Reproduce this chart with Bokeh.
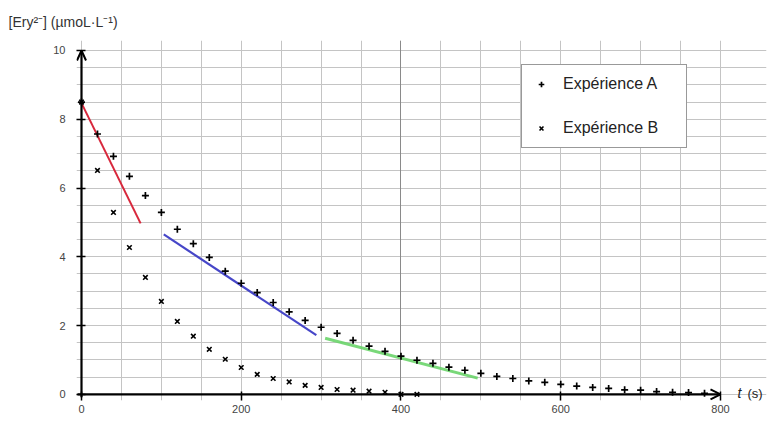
from bokeh.plotting import figure
from bokeh.models import (Range1d, FixedTicker, Label, Legend, LegendItem, Grid)
from bokeh.embed import file_html
from bokeh.resources import INLINE

# ---- data ----
t_A = [0, 20, 40, 60, 80, 100, 120, 140, 160, 180, 200, 220, 240, 260, 280,
       300, 320, 340, 360, 380, 400, 420, 440, 460, 480, 500, 520, 540, 560,
       580, 600, 620, 640, 660, 680, 700, 720, 740, 760, 780]
c_A = [8.5, 7.57, 6.92, 6.34, 5.78, 5.29, 4.80, 4.38, 3.98, 3.58, 3.23, 2.96,
       2.67, 2.40, 2.15, 1.95, 1.77, 1.57, 1.40, 1.25, 1.11, 0.99, 0.90, 0.79,
       0.70, 0.61, 0.52, 0.46, 0.39, 0.35, 0.29, 0.24, 0.20, 0.17, 0.13, 0.12,
       0.08, 0.06, 0.05, 0.03]
t_B = [0, 20, 40, 60, 80, 100, 120, 140, 160, 180, 200, 220, 240, 260, 280,
       300, 320, 340, 360, 380, 400, 420]
c_B = [8.5, 6.51, 5.29, 4.27, 3.40, 2.70, 2.12, 1.69, 1.31, 1.02, 0.78, 0.58,
       0.46, 0.36, 0.26, 0.20, 0.14, 0.12, 0.09, 0.06, 0.0, 0.0]

red_t, red_c = [0, 74], [8.47, 4.97]
blue_t, blue_c = [103, 294], [4.65, 1.72]
green_t, green_c = [305, 496], [1.63, 0.47]

x_ticks = [0, 200, 400, 600, 800]
y_ticks = [0, 2, 4, 6, 8, 10]
x_grid = list(range(0, 801, 50))
y_grid = [i * 0.5 for i in range(0, 21)]
x_grid_major = [400]

series_names = ["Expérience A", "Expérience B"]
y_title = "[Ery²⁻] (µmoL·L⁻¹)"

FONT = "Liberation Sans"

# pixel scale (px per data unit) used for the frame and axis decorations
PX_X = 0.79875
PX_Y = 34.4
X_END = x_ticks[-1]
Y_END = y_ticks[-1]

p = figure(width=768, height=425, output_backend="svg", toolbar_location=None,
           x_range=Range1d(-5 / PX_X, 857.6), y_range=Range1d(-0.18, 10.29),
           min_border_left=76, min_border_right=2, min_border_top=40,
           min_border_bottom=25)
p.outline_line_color = None
p.background_fill_color = "white"

# title (y quantity)
p.title.text = y_title
p.title.align = "left"
p.title.offset = -68
p.title.text_font = FONT
p.title.text_font_size = "14px"
p.title.text_font_style = "normal"
p.title.text_color = "#333333"
p.title.standoff = 22

# grid
p.xgrid.ticker = FixedTicker(ticks=x_grid)
p.ygrid.ticker = FixedTicker(ticks=y_grid)
p.xgrid.bounds = (0, Y_END)
p.ygrid.bounds = (0, X_END)
for g in (p.xgrid, p.ygrid):
    g.grid_line_color = "#c4c4c4"
    g.grid_line_width = 1
p.add_layout(Grid(dimension=0, ticker=FixedTicker(ticks=x_grid_major),
                  bounds=(0, Y_END), grid_line_color="#8a8a8a", grid_line_width=1))

# axes (labels + crossing ticks; axis lines drawn below)
for ax in (p.xaxis, p.yaxis):
    ax.axis_line_color = None
    ax.major_tick_line_color = "black"
    ax.major_tick_line_width = 1.5
    ax.major_tick_in = 9
    ax.major_tick_out = 0
    ax.minor_tick_line_color = None
    ax.major_label_text_font = FONT
    ax.major_label_text_font_size = "11px"
    ax.major_label_text_color = "#444444"
p.xaxis.ticker = FixedTicker(ticks=x_ticks)
p.yaxis.ticker = FixedTicker(ticks=y_ticks)
p.xaxis.major_label_standoff = 4
p.yaxis.major_label_standoff = 11

# tangents
p.line(red_t, red_c, line_color="#d8283c", line_width=2)
p.line(blue_t, blue_c, line_color="#4646c8", line_width=2.2)
p.line(green_t, green_c, line_color="#6ad46a", line_width=3, line_alpha=0.9)

# points
rA = p.scatter(t_A, c_A, marker="cross", size=7, line_color="black", line_width=1.7)
rB = p.scatter(t_B, c_B, marker="x", size=6.5, line_color="black", line_width=1.6)

# axis lines with open arrow heads
hx, hy = 10 / PX_X, 5 / PX_Y
vx, vy = 4.5 / PX_X, 10 / PX_Y
p.line([-4 / PX_X, X_END], [0, 0], line_color="black", line_width=2.2)
p.line([X_END - hx, X_END, X_END - hx], [hy, 0, -hy], line_color="black", line_width=2)
p.line([0, 0], [-3 / PX_Y, Y_END], line_color="black", line_width=2.2)
p.line([-vx, 0, vx], [Y_END - vy, Y_END, Y_END - vy], line_color="black", line_width=2)

# legend
legend = Legend(items=[LegendItem(label=series_names[0], renderers=[rA]),
                       LegendItem(label=series_names[1], renderers=[rB])],
                location=(445, 252), orientation="vertical",
                border_line_color="#333333", border_line_width=1.5,
                background_fill_color="white", background_fill_alpha=1,
                label_text_font=FONT, label_text_font_size="16px",
                label_text_color="#222222",
                padding=10, spacing=26, glyph_height=14, glyph_width=18,
                label_height=14, label_standoff=13, label_width=113, margin=0)
p.add_layout(legend)

# time axis label
p.add_layout(Label(x=X_END, y=0, x_offset=17, y_offset=1, text="t",
                   text_font=FONT, text_font_size="14px", text_font_style="italic",
                   text_color="#222222", text_baseline="middle", text_align="left"))
p.add_layout(Label(x=X_END, y=0, x_offset=27, y_offset=1, text="(s)",
                   text_font=FONT, text_font_size="13px",
                   text_color="#222222", text_baseline="middle", text_align="left"))

open("out.html", "w").write(file_html(p, INLINE))
